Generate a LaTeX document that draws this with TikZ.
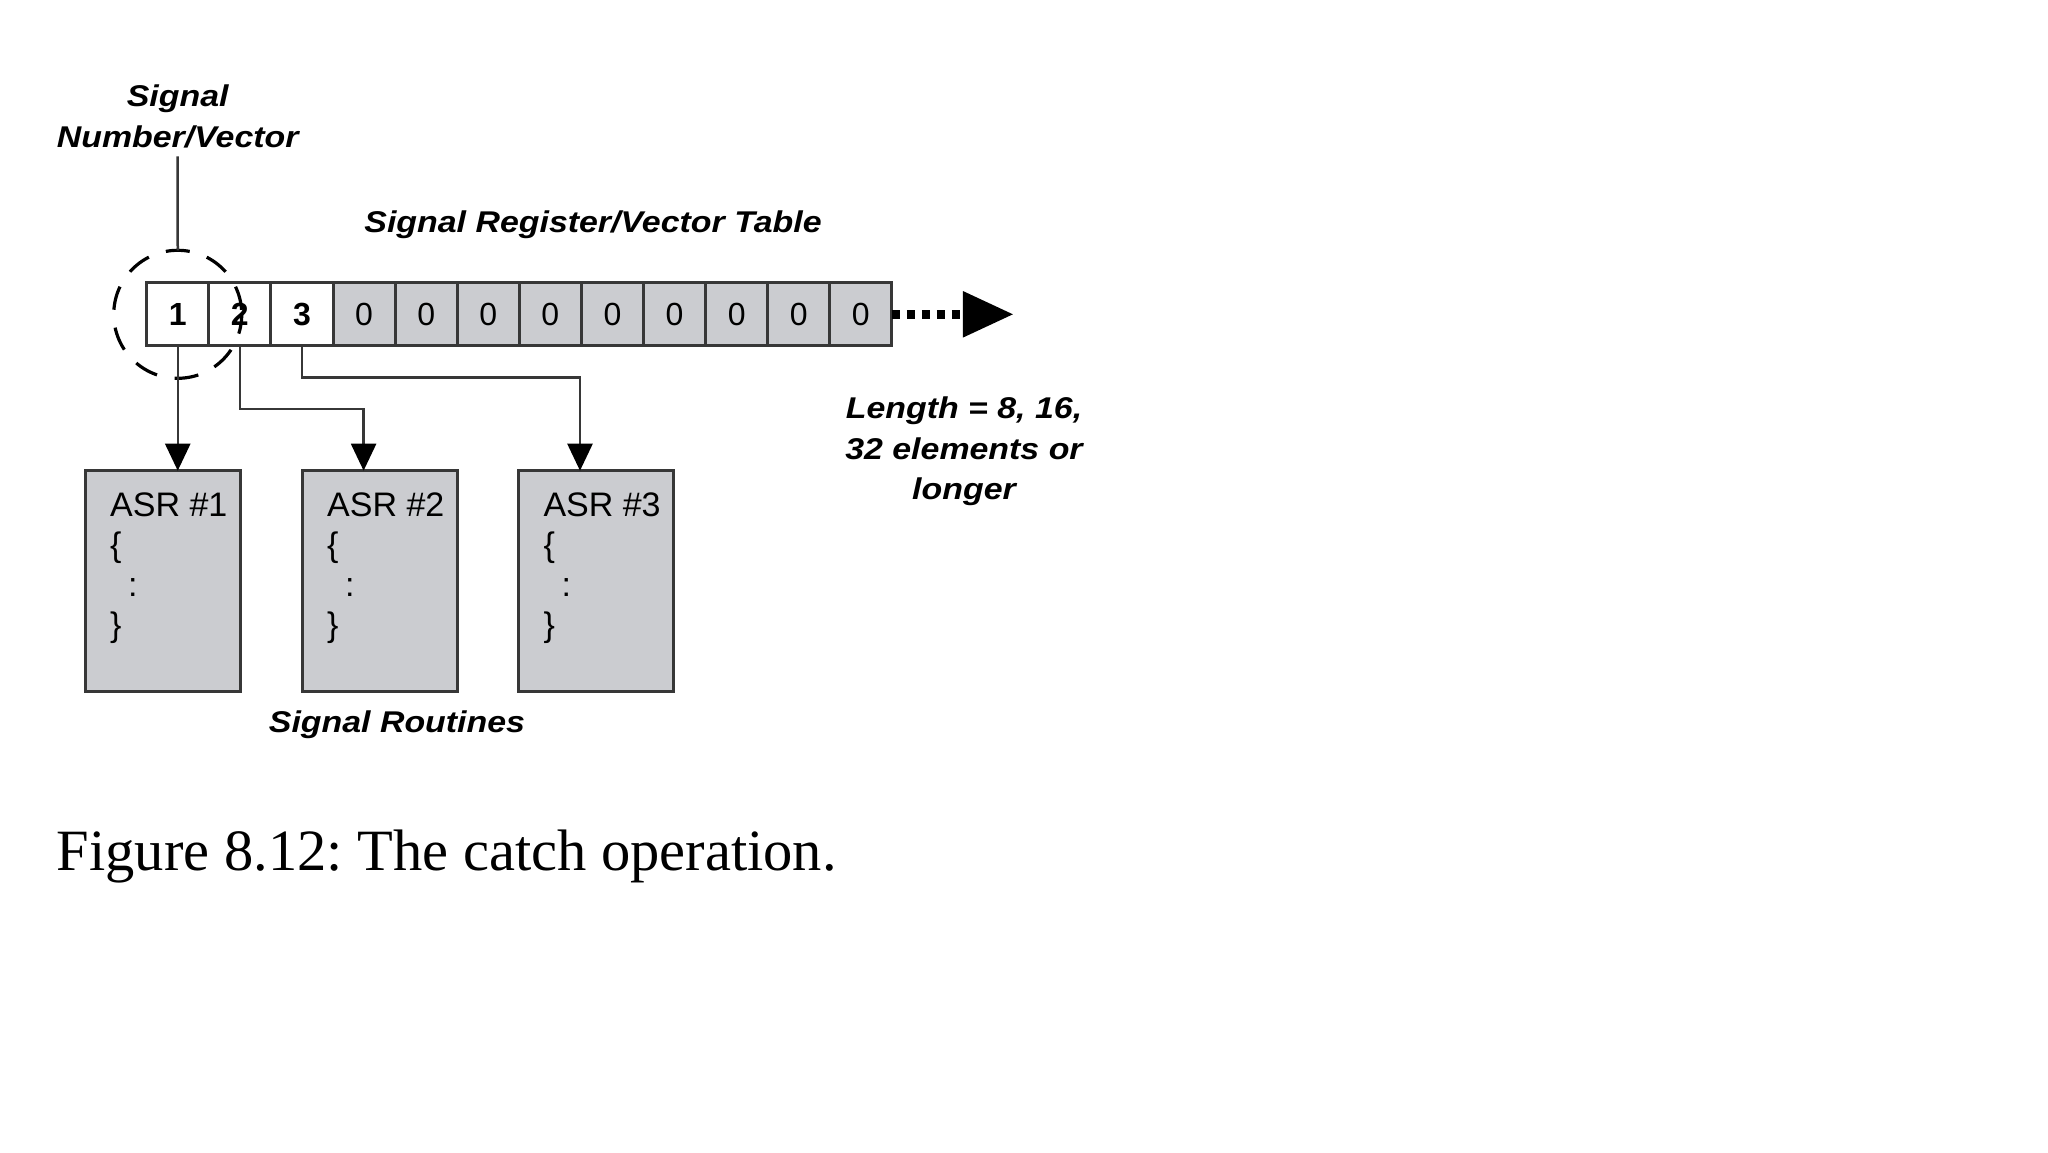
\documentclass[tikz,border=0pt]{standalone}
\usepackage{fontspec}
\usepackage{graphicx}
\usetikzlibrary{arrows.meta,calc}
\newfontfamily\sansf{Liberation Sans}
\newfontfamily\seriff{Liberation Serif}
\definecolor{cellgray}{RGB}{203,204,208}
\definecolor{edgec}{RGB}{55,55,55}
\newcommand{\stretchtxt}[1]{\scalebox{1.13}[1]{#1}}
\frenchspacing
\begin{document}
\begin{tikzpicture}[x=1pt,y=-1pt,
  cell/.style={draw=edgec, line width=3pt, minimum width=62.1pt, minimum height=63.3pt,
    inner sep=0pt, outer sep=0pt, font=\sansf\fontsize{32}{32}\selectfont},
  asrbox/.style={draw=edgec, line width=3pt, fill=cellgray, minimum width=155pt,
    minimum height=221pt, inner sep=0pt, outer sep=0pt},
  lbl/.style={font=\sansf\bfseries\itshape\fontsize{30}{41}\selectfont, align=center, inner sep=0pt},
  codetxt/.style={font=\sansf\fontsize{34}{34}\selectfont, anchor=base west, inner sep=0pt},
  conn/.style={draw=edgec, line width=2.5pt, -{Triangle[length=27pt,width=25pt,black]}},
]
\useasboundingbox[fill=white] (0,0) rectangle (2048,1152);

% register cells
\foreach \i/\t/\f/\w in {1/1/white/\bfseries, 2/2/white/\bfseries, 3/3/white/\bfseries,
  4/0/cellgray/\mdseries, 5/0/cellgray/\mdseries, 6/0/cellgray/\mdseries,
  7/0/cellgray/\mdseries, 8/0/cellgray/\mdseries, 9/0/cellgray/\mdseries,
  10/0/cellgray/\mdseries, 11/0/cellgray/\mdseries, 12/0/cellgray/\mdseries} {
  \pgfmathsetmacro\cx{146.7+62.1*(\i-0.5)}
  \node[cell, fill=\f] (c\i) at (\cx,314.3) {\w\t};
}

% dotted extension with arrow head
\coordinate (tb) at ([xshift=71pt]c12.east);
\draw[black, line width=9pt, dash pattern=on 8pt off 7pt] (c12.east) -- (tb);
\fill[black] ([yshift=23.3pt]tb) -- ([xshift=50pt]tb) -- ([yshift=-23.3pt]tb) -- cycle;

% dashed circle
\node[circle, draw=black, line width=3.2pt, dash pattern=on 24pt off 18pt, dash phase=37.5pt,
  minimum size=128pt, inner sep=0pt, outer sep=0pt] (circ) at (c1.center) {};

% labels
\node[lbl] (lblnum) at (177.7,116.5) {\stretchtxt{Signal}\\\stretchtxt{Number/Vector}};
\draw[draw=edgec, line width=2.5pt, shorten <=8pt] (lblnum.south) -- (circ.north);
\node[lbl] (lbltab) at (593,225) {\stretchtxt{Signal Register/Vector Table}};
\node[lbl, font=\sansf\bfseries\itshape\fontsize{30}{40.5}\selectfont] (lbllen) at (964,451.5)
  {\stretchtxt{Length = 8, 16,}\\\stretchtxt{32 elements or}\\\stretchtxt{longer}};

% ASR boxes
\foreach \i/\x in {1/162.5, 2/379.5, 3/595.8} {
  \node[asrbox] (b\i) at (\x,581.2) {};
  \node[codetxt] (b\i l1) at ([shift={(25,46)}]b\i.north west) {ASR \#\i};
  \node[codetxt] (b\i l2) at ([shift={(25,86)}]b\i.north west) {\{};
  \node[codetxt] (b\i l3) at ([shift={(43,126)}]b\i.north west) {:};
  \node[codetxt] (b\i l4) at ([shift={(25,166)}]b\i.north west) {\}};
}
\node[lbl] (lblrout) at (397,725) {\stretchtxt{Signal Routines}};

% connectors
\draw[conn] (c1.south) -- (c1.south |- b1.north);
\coordinate (b2in) at ([xshift=61.6pt]b2.north west);
\draw[conn] (c2.south) -- ++(0,63) -| (b2in);
\coordinate (b3in) at ([xshift=61.7pt]b3.north west);
\draw[conn] (c3.south) -- ++(0,31.7) -| (b3in);

% caption
\node[font=\seriff\fontsize{58.5}{58.5}\selectfont, anchor=base west, inner sep=0pt] (caption)
  at (56.7,870) {Figure 8.12: The catch operation.};
\end{tikzpicture}
\end{document}
